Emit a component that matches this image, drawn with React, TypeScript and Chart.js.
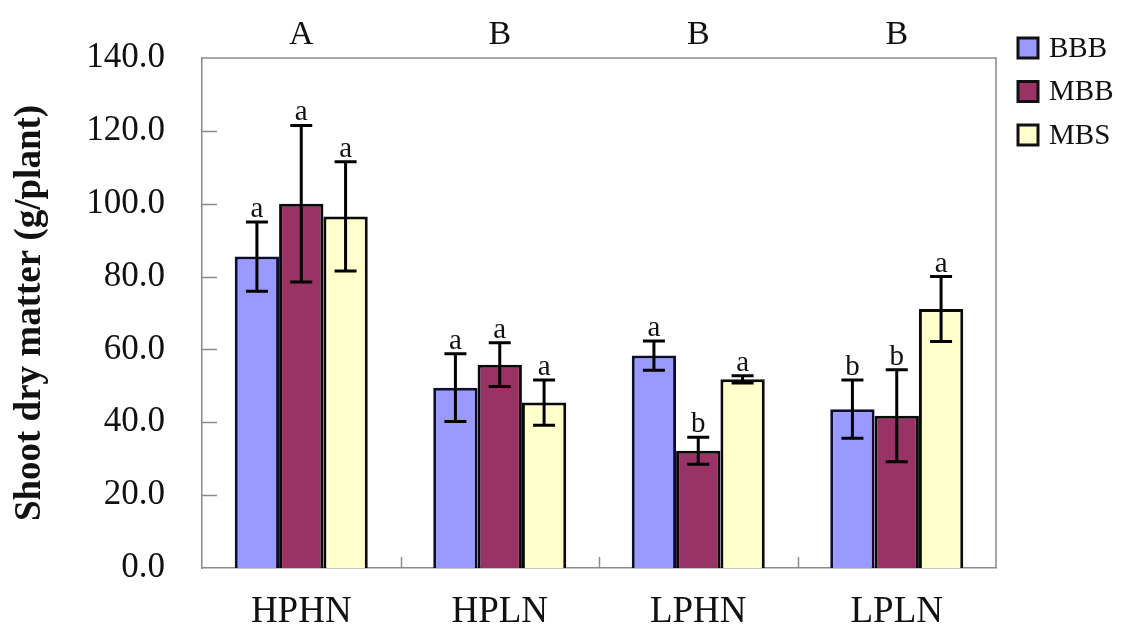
import React, { useEffect, useRef } from "react";
import { Chart, registerables } from "chart.js";

Chart.register(...registerables);

const categories = ["HPHN", "HPLN", "LPHN", "LPLN"];
const groupLetters = ["A", "B", "B", "B"];
const seriesNames = ["BBB", "MBB", "MBS"];
const seriesColors = ["#9999FF", "#993366", "#FFFFCC"];
const bbbValues = [85.5, 49.5, 58.3, 43.6];
const mbbValues = [100.0, 55.8, 32.2, 41.8];
const mbsValues = [96.5, 45.4, 51.8, 71.1];
const bbbErrors = [9.5, 9.3, 4.0, 8.0];
const mbbErrors = [21.5, 6.0, 3.7, 12.6];
const mbsErrors = [15.0, 6.2, 1.0, 8.9];
const bbbLetters = ["a", "a", "a", "b"];
const mbbLetters = ["a", "a", "b", "b"];
const mbsLetters = ["a", "a", "a", "a"];
const yMin = 0;
const yMax = 140;
const yStep = 20;

const seriesValues = [bbbValues, mbbValues, mbsValues];
const seriesErrors = [bbbErrors, mbbErrors, mbsErrors];
const seriesLetters = [bbbLetters, mbbLetters, mbsLetters];

const FONT = "'Liberation Serif', 'Times New Roman', serif";
const AXIS_GREY = "#8a8a8a";

const decorPlugin = {
  id: "decor",
  afterDatasetsDraw(chart: any) {
    const ctx = chart.ctx;
    const y = chart.scales.y;
    ctx.save();
    chart.data.datasets.forEach((ds: any, di: number) => {
      const meta = chart.getDatasetMeta(di);
      meta.data.forEach((bar: any, i: number) => {
        const v = ds.data[i];
        const e = seriesErrors[di][i];
        const top = y.getPixelForValue(v + e);
        const bot = y.getPixelForValue(v - e);
        const x = bar.x;
        ctx.strokeStyle = "#000";
        ctx.lineWidth = 3;
        ctx.beginPath();
        ctx.moveTo(x, top);
        ctx.lineTo(x, bot);
        ctx.moveTo(x - 11, top);
        ctx.lineTo(x + 11, top);
        ctx.moveTo(x - 11, bot);
        ctx.lineTo(x + 11, bot);
        ctx.stroke();
        ctx.fillStyle = "#111";
        ctx.font = `29px ${FONT}`;
        ctx.textAlign = "center";
        ctx.textBaseline = "alphabetic";
        ctx.fillText(seriesLetters[di][i], x, top - 5);
      });
    });
    ctx.restore();
  },
  afterDraw(chart: any) {
    const ctx = chart.ctx;
    const { left, right, top, bottom } = chart.chartArea;
    const x = chart.scales.x;
    const y = chart.scales.y;
    ctx.save();
    // plot frame top/right
    ctx.strokeStyle = AXIS_GREY;
    ctx.lineWidth = 1.5;
    ctx.beginPath();
    ctx.moveTo(left, top);
    ctx.lineTo(right, top);
    ctx.lineTo(right, bottom);
    ctx.stroke();
    // inner y ticks
    ctx.beginPath();
    for (let v = yMin + yStep; v < yMax; v += yStep) {
      const py = Math.round(y.getPixelForValue(v)) + 0.5;
      ctx.moveTo(left, py);
      ctx.lineTo(left + 15, py);
    }
    // inner x ticks at category boundaries
    for (let i = 1; i < categories.length; i++) {
      const px = Math.round((x.getPixelForValue(i - 1) + x.getPixelForValue(i)) / 2) + 0.5;
      ctx.moveTo(px, bottom);
      ctx.lineTo(px, bottom - 11);
    }
    ctx.stroke();
    // group letters
    ctx.fillStyle = "#111";
    ctx.font = `34px ${FONT}`;
    ctx.textAlign = "center";
    ctx.textBaseline = "alphabetic";
    groupLetters.forEach((t, i) => {
      ctx.fillText(t, x.getPixelForValue(i), 44);
    });
    // legend
    const legendX = right + 22;
    const legendY0 = 48;
    const legendGap = 43.5;
    ctx.font = `29px ${FONT}`;
    ctx.textAlign = "left";
    ctx.textBaseline = "middle";
    seriesNames.forEach((name, i) => {
      const cy = legendY0 + i * legendGap;
      ctx.fillStyle = seriesColors[i];
      ctx.fillRect(legendX, cy - 10, 20, 20);
      ctx.strokeStyle = "#111";
      ctx.lineWidth = 3;
      ctx.strokeRect(legendX, cy - 10, 20, 20);
      ctx.fillStyle = "#111";
      ctx.fillText(name, legendX + 31, cy + 1);
    });
    ctx.restore();
  },
};

export default function App() {
  const canvasRef = useRef<HTMLCanvasElement | null>(null);

  useEffect(() => {
    const canvas = canvasRef.current;
    if (!canvas) return;
    const chart = new Chart(canvas, {
      type: "bar",
      data: {
        labels: categories,
        datasets: seriesNames.map((name, i) => ({
          label: name,
          data: seriesValues[i],
          backgroundColor: seriesColors[i],
          borderColor: i === 0 ? "#0d0d30" : "#0a0a0a",
          borderWidth: 3,
          categoryPercentage: 0.67,
          barPercentage: 1.0,
        })),
      },
      options: {
        responsive: false,
        animation: false,
        devicePixelRatio: 1,
        layout: { padding: { top: 52, right: 145, bottom: 0, left: 0 } },
        plugins: {
          legend: { display: false },
          tooltip: { enabled: false },
        },
        scales: {
          x: {
            grid: { display: false, drawTicks: false },
            border: { display: true, color: AXIS_GREY, width: 1.5 },
            ticks: {
              color: "#111",
              font: { family: FONT, size: 37 },
              padding: 22,
            },
            afterFit(scale: any) {
              scale.height = 76;
            },
          },
          y: {
            min: yMin,
            max: yMax,
            grid: { display: false, drawTicks: false },
            border: { display: true, color: AXIS_GREY, width: 1.5 },
            ticks: {
              stepSize: yStep,
              color: "#111",
              font: { family: FONT, size: 35 },
              padding: 37,
              callback: (v: any) => Number(v).toFixed(1),
            },
            title: {
              display: true,
              text: "Shoot dry matter (g/plant)",
              color: "#111",
              font: { family: FONT, size: 37, weight: "bold" },
              padding: { top: 8, bottom: 0 },
            },
            afterFit(scale: any) {
              scale.width = 202;
            },
          },
        },
      },
      plugins: [decorPlugin],
    });
    return () => chart.destroy();
  }, []);

  return (
    <div style={{ position: "fixed", left: 0, top: 0, width: 1141, height: 644, background: "#fff" }}>
      <canvas ref={canvasRef} width={1141} height={644} style={{ display: "block" }} />
    </div>
  );
}
